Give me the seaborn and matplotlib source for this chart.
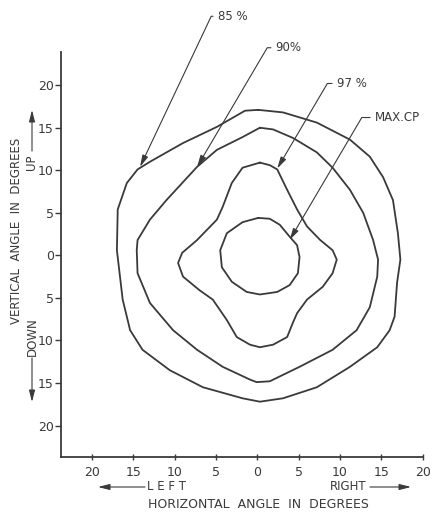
import numpy as np
import pandas as pd
import matplotlib
matplotlib.use("Agg")
import matplotlib.pyplot as plt
from matplotlib.ticker import FixedLocator, FixedFormatter
import seaborn as sns

# Iso-candlepower contours: horizontal / vertical angle in degrees
cp85_h = [0.1, 3.1, 7.2, 11.2, 13.6, 15.2, 16.4, 17.0, 17.3, 16.9, 16.6, 16.0, 14.5, 11.2, 7.2, 3.1,
          0.3, -1.8, -6.6, -10.6, -13.9, -15.4, -16.3, -17.0, -16.9, -15.8, -14.5, -13.0, -9.0, -4.9, -1.5]
cp85_v = [17.1, 16.8, 15.6, 13.6, 11.6, 9.2, 6.5, 2.6, -0.5, -3.2, -7.2, -8.8, -10.8, -13.1, -15.5, -16.8,
          -17.2, -16.8, -15.5, -13.5, -11.1, -8.8, -5.2, 0.6, 5.4, 8.5, 10.1, 11.0, 13.2, 15.1, 17.0]

cp90_h = [0.3, 1.9, 4.3, 7.2, 9.1, 11.2, 12.8, 14.0, 14.6, 14.5, 13.6, 12.0, 9.1, 5.1, 1.5,
          -0.1, -0.9, -4.2, -7.3, -10.2, -13.0, -14.5, -14.6, -14.5, -13.0, -11.0, -7.3, -4.9, -1.8]
cp90_v = [15.0, 14.8, 13.8, 12.1, 10.3, 7.7, 5.0, 1.8, -0.5, -2.5, -6.1, -8.8, -11.1, -13.1, -14.8,
          -14.9, -14.6, -13.1, -11.1, -8.8, -5.6, -2.1, 0.6, 1.8, 4.2, 6.5, 10.4, 12.4, 13.9]

cp97_h = [0.3, 1.5, 2.4, 3.6, 4.8, 6.0, 7.6, 9.1, 9.6, 9.1, 7.9, 6.0, 4.8, 4.3, 3.6, 1.9,
          0.3, -0.9, -2.5, -3.7, -5.4, -7.0, -9.0, -9.6, -9.1, -7.3, -4.9, -4.2, -3.1, -1.8]
cp97_v = [10.9, 10.6, 10.1, 7.7, 5.4, 3.4, 1.8, 0.6, -0.5, -2.1, -3.7, -5.2, -6.8, -7.9, -9.6, -10.5,
          -10.8, -10.5, -9.6, -7.6, -5.2, -4.1, -2.5, -0.9, 0.3, 1.8, 4.2, 5.7, 8.5, 10.3]

cpmax_h = [0.1, 1.5, 2.7, 3.9, 4.8, 5.1, 4.9, 3.9, 2.4, 0.3, -1.3, -3.1, -4.3, -4.5, -3.7, -1.8]
cpmax_v = [4.4, 4.3, 3.6, 2.2, 1.2, -0.2, -2.1, -3.5, -4.3, -4.6, -4.3, -3.1, -1.4, 0.6, 2.6, 3.9]

ticks = [-20, -15, -10, -5, 0, 5, 10, 15, 20]
tick_labels = [str(abs(t)) for t in ticks]

contour_labels = ["85 %", "90%", "97 %", "MAX.CP"]
# where each leader arrow touches its contour
arrow_tips_h = [-14.2, -7.3, 2.4, 3.9]
arrow_tips_v = [10.4, 10.4, 10.2, 1.8]
# label anchor (left edge of text)
label_h = [-4.8, 2.2, 9.6, 14.2]
label_v = [28.1, 24.4, 20.2, 16.2]
leader_angles = [64.7, 59.5, 59.5, 59.5]

ink = "#3a3a3a"

sns.set_theme(style="white")
plt.rcParams["font.family"] = ["DejaVu Sans"]

fig = plt.figure(figsize=(4.35, 5.12), dpi=100)
ax = fig.add_axes([60.7 / 435, 55 / 512, 362 / 435, 405 / 512])

contours = [(cp85_h, cp85_v), (cp90_h, cp90_v), (cp97_h, cp97_v), (cpmax_h, cpmax_v)]
for i, (h, v) in enumerate(contours):
    df = pd.DataFrame({"h": list(h) + [h[0]], "v": list(v) + [v[0]]})
    sns.lineplot(data=df, x="h", y="v", sort=False, estimator=None, color=ink,
                 linewidth=1.3, ax=ax, solid_joinstyle="round")

for lab, th, tv, lh, lv, ang in zip(contour_labels, arrow_tips_h, arrow_tips_v,
                                     label_h, label_v, leader_angles):
    ax.annotate(lab, xy=(th, tv), xytext=(lh, lv), textcoords="data",
                fontsize=8.5, color=ink, ha="left", va="center",
                annotation_clip=False,
                arrowprops=dict(arrowstyle="-|>,head_length=0.7,head_width=0.18",
                                connectionstyle=f"angle,angleA=180,angleB={ang},rad=0",
                                relpos=(0, 0.5), shrinkA=1, shrinkB=0,
                                color=ink, lw=0.8, mutation_scale=10))

ax.set_xlim(-23.8, 20)
ax.set_ylim(-23.7, 23.9)
ax.xaxis.set_major_locator(FixedLocator(ticks))
ax.xaxis.set_major_formatter(FixedFormatter(tick_labels))
ax.yaxis.set_major_locator(FixedLocator(ticks))
ax.yaxis.set_major_formatter(FixedFormatter(tick_labels))
ax.set_xlabel("")
ax.set_ylabel("")
for s in ["top", "right"]:
    ax.spines[s].set_visible(False)
for s in ["left", "bottom"]:
    ax.spines[s].set_color(ink)
    ax.spines[s].set_linewidth(1.3)
ax.tick_params(axis="x", direction="inout", length=5, width=1, colors=ink,
               labelsize=9, pad=4, bottom=True)
ax.tick_params(axis="y", direction="out", length=4, width=1, colors=ink,
               labelsize=9, pad=1, left=True)
ax.grid(False)

# Axis captions with direction arrows (figure pixel coordinates)
def fpx(x, y):
    return (x / 435, 1 - y / 512)

fig.text(*fpx(258, 505), "HORIZONTAL  ANGLE  IN  DEGREES", ha="center", va="center",
         fontsize=9, color=ink)
fig.text(*fpx(167, 487), "L E F T", ha="center", va="center", fontsize=8.5, color=ink)
fig.text(*fpx(348, 487), "RIGHT", ha="center", va="center", fontsize=8.5, color=ink)
fig.text(*fpx(17, 231), "VERTICAL  ANGLE  IN  DEGREES", ha="center", va="center",
         rotation=90, fontsize=8.5, color=ink)
fig.text(*fpx(32, 162), "UP", ha="center", va="center", rotation=90, fontsize=8.5, color=ink)
fig.text(*fpx(32, 337), "DOWN", ha="center", va="center", rotation=90, fontsize=8.5, color=ink)

arrow_kw = dict(arrowstyle="-|>,head_length=0.7,head_width=0.18", color=ink, lw=0.8,
                mutation_scale=10, shrinkA=0, shrinkB=0)
for (x0, y0), (x1, y1) in [((145, 487), (98, 487)), ((370, 487), (411, 487)),
                           ((32, 151), (32, 110)), ((32, 358), (32, 402))]:
    ax.annotate("", xy=fpx(x1, y1), xytext=fpx(x0, y0), xycoords="figure fraction",
                textcoords="figure fraction", arrowprops=arrow_kw, annotation_clip=False)

fig.savefig("out.png", dpi=100, facecolor="white")
